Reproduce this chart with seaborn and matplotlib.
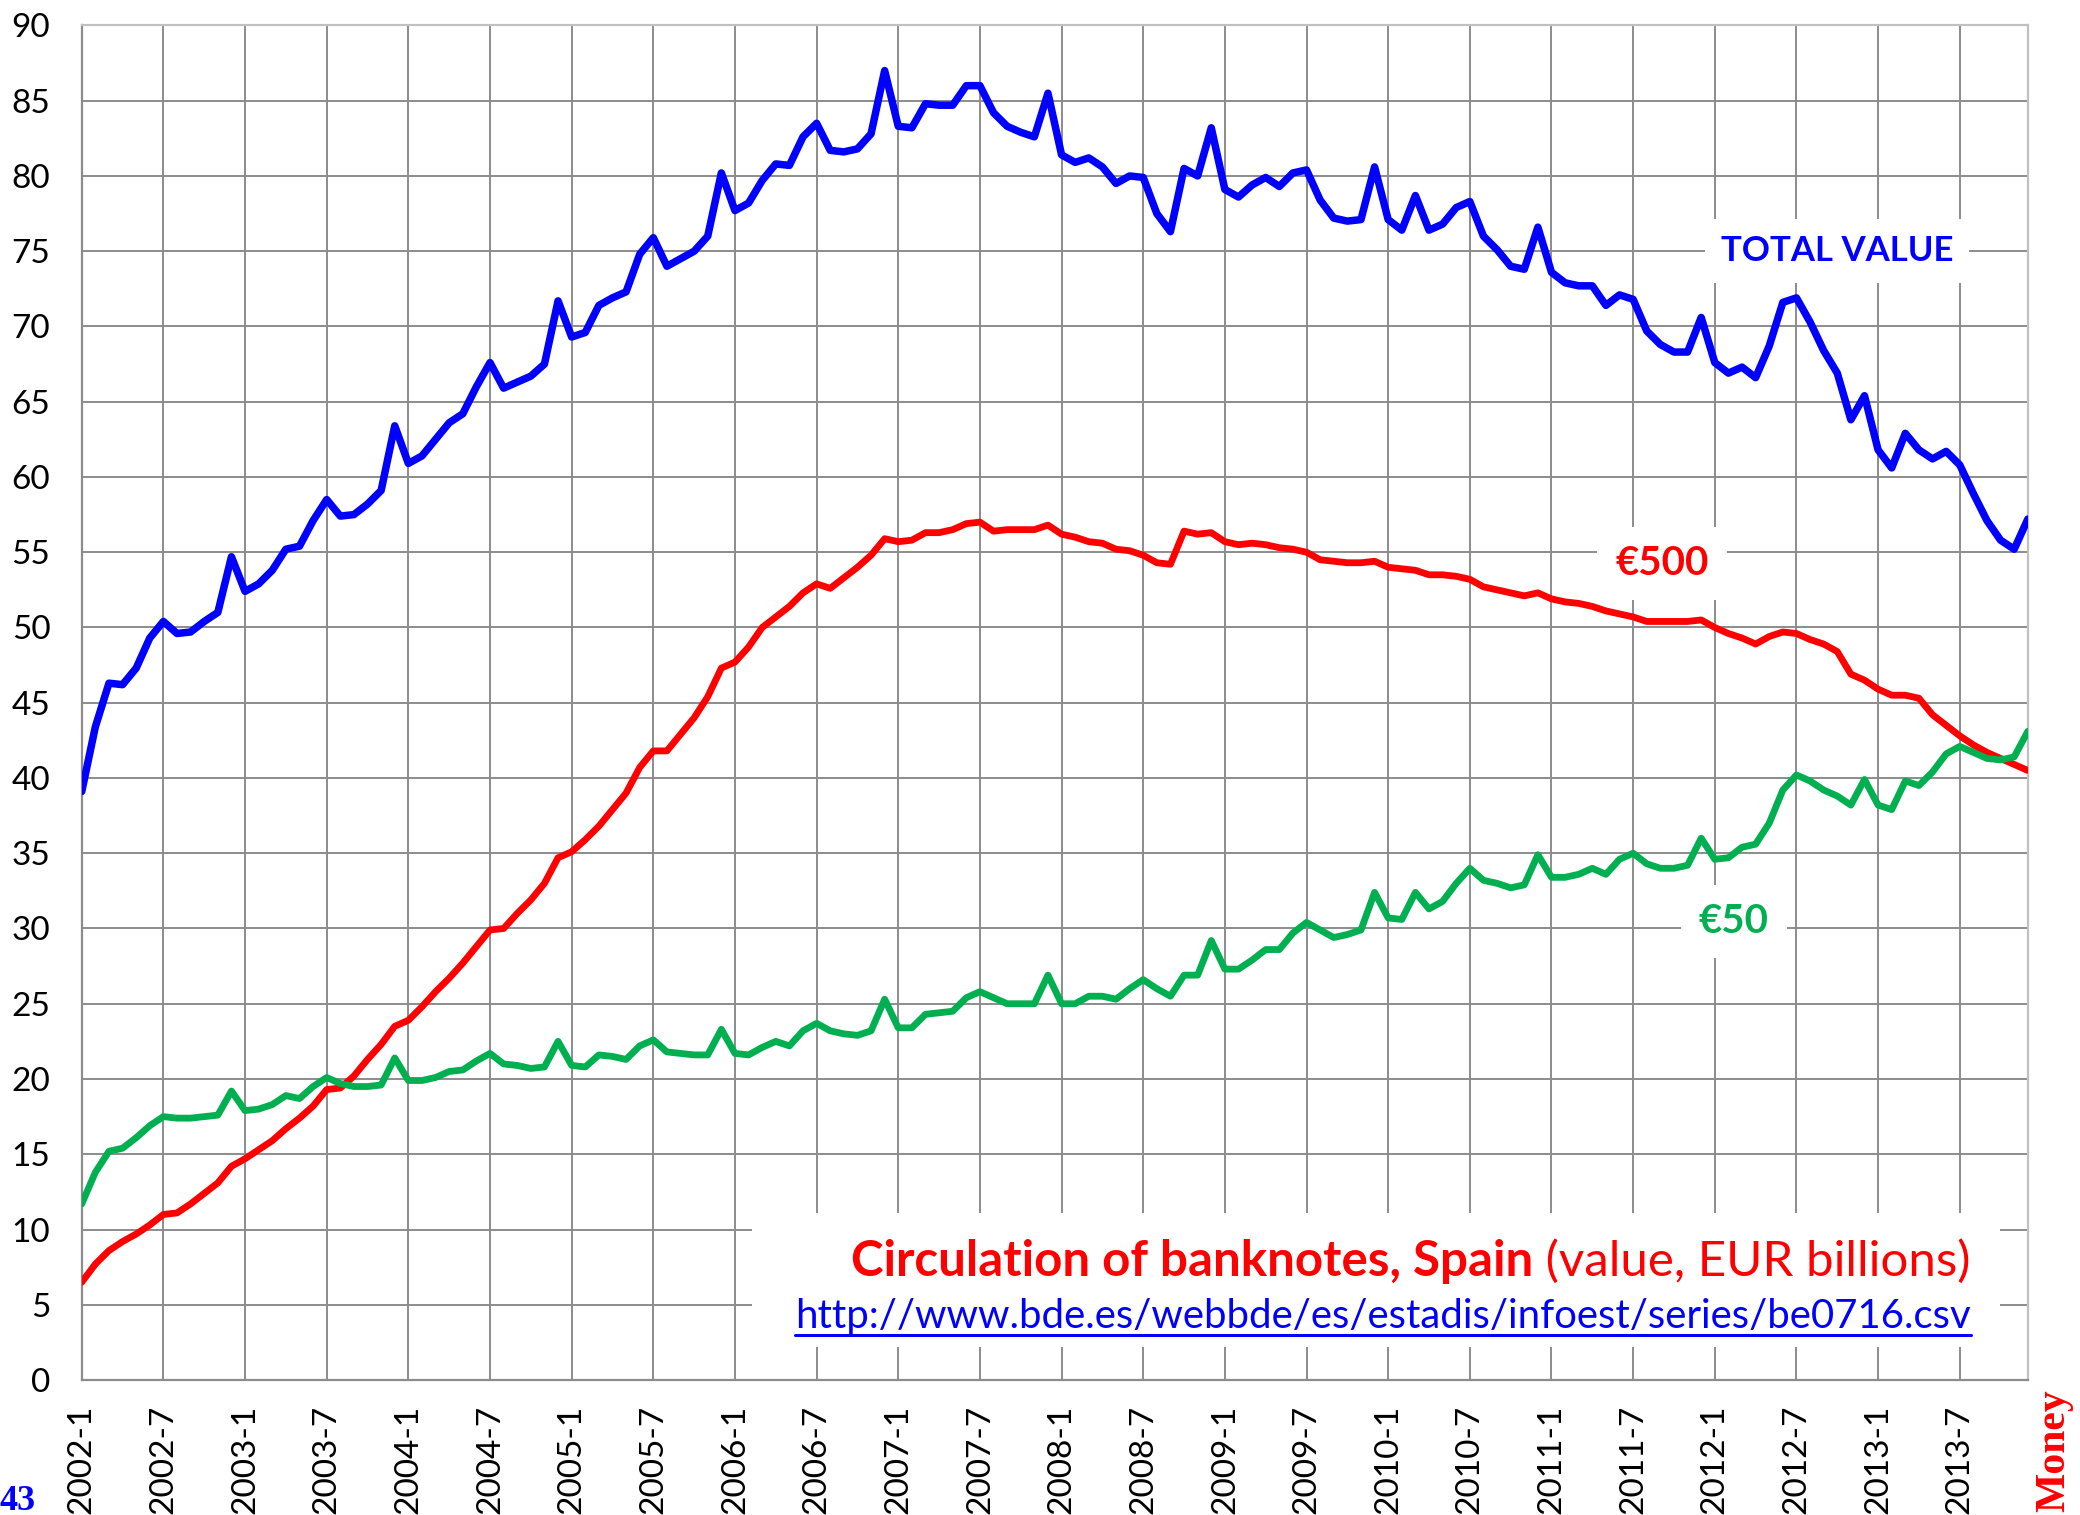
import numpy as np
import pandas as pd
import matplotlib
matplotlib.use("Agg")
import matplotlib.pyplot as plt
import matplotlib.patches as mpatches
from matplotlib.lines import Line2D
import seaborn as sns

# monthly values, EUR billions, 2002-1 .. 2013-12 (one row per year)
total_value = [
    39.1, 43.4, 46.3, 46.2, 47.3, 49.3, 50.4, 49.6, 49.7, 50.4, 51.0, 54.7,
    52.4, 52.9, 53.8, 55.2, 55.4, 57.1, 58.5, 57.4, 57.5, 58.2, 59.1, 63.4,
    60.9, 61.4, 62.5, 63.6, 64.2, 66.0, 67.6, 65.9, 66.3, 66.7, 67.5, 71.7,
    69.3, 69.6, 71.4, 71.9, 72.3, 74.8, 75.9, 74.0, 74.5, 75.0, 76.0, 80.2,
    77.7, 78.2, 79.7, 80.8, 80.7, 82.6, 83.5, 81.7, 81.6, 81.8, 82.8, 87.0,
    83.3, 83.2, 84.8, 84.7, 84.7, 86.0, 86.0, 84.2, 83.3, 82.9, 82.6, 85.5,
    81.4, 80.9, 81.2, 80.6, 79.5, 80.0, 79.9, 77.5, 76.3, 80.5, 80.0, 83.2,
    79.1, 78.6, 79.4, 79.9, 79.3, 80.2, 80.4, 78.4, 77.2, 77.0, 77.1, 80.6,
    77.1, 76.4, 78.7, 76.4, 76.8, 77.9, 78.3, 76.0, 75.1, 74.0, 73.8, 76.6,
    73.6, 72.9, 72.7, 72.7, 71.4, 72.1, 71.8, 69.7, 68.8, 68.3, 68.3, 70.6,
    67.6, 66.9, 67.3, 66.6, 68.7, 71.6, 71.9, 70.3, 68.4, 66.9, 63.8, 65.4,
    61.8, 60.6, 62.9, 61.8, 61.2, 61.7, 60.8, 58.9, 57.1, 55.8, 55.2, 57.2,
]
notes_500 = [
    6.5, 7.7, 8.6, 9.2, 9.7, 10.3, 11.0, 11.1, 11.7, 12.4, 13.1, 14.2,
    14.7, 15.3, 15.9, 16.7, 17.4, 18.2, 19.3, 19.4, 20.2, 21.3, 22.3, 23.5,
    23.9, 24.8, 25.8, 26.7, 27.7, 28.8, 29.9, 30.0, 31.0, 31.9, 33.0, 34.7,
    35.1, 35.9, 36.8, 37.9, 39.0, 40.7, 41.8, 41.8, 42.9, 44.0, 45.4, 47.3,
    47.7, 48.7, 50.0, 50.7, 51.4, 52.3, 52.9, 52.6, 53.3, 54.0, 54.8, 55.9,
    55.7, 55.8, 56.3, 56.3, 56.5, 56.9, 57.0, 56.4, 56.5, 56.5, 56.5, 56.8,
    56.2, 56.0, 55.7, 55.6, 55.2, 55.1, 54.8, 54.3, 54.2, 56.4, 56.2, 56.3,
    55.7, 55.5, 55.6, 55.5, 55.3, 55.2, 55.0, 54.5, 54.4, 54.3, 54.3, 54.4,
    54.0, 53.9, 53.8, 53.5, 53.5, 53.4, 53.2, 52.7, 52.5, 52.3, 52.1, 52.3,
    51.9, 51.7, 51.6, 51.4, 51.1, 50.9, 50.7, 50.4, 50.4, 50.4, 50.4, 50.5,
    50.0, 49.6, 49.3, 48.9, 49.4, 49.7, 49.6, 49.2, 48.9, 48.4, 46.9, 46.5,
    45.9, 45.5, 45.5, 45.3, 44.2, 43.5, 42.8, 42.2, 41.7, 41.3, 40.9, 40.5,
]
notes_50 = [
    11.7, 13.8, 15.2, 15.4, 16.1, 16.9, 17.5, 17.4, 17.4, 17.5, 17.6, 19.2,
    17.9, 18.0, 18.3, 18.9, 18.7, 19.5, 20.1, 19.7, 19.5, 19.5, 19.6, 21.4,
    19.9, 19.9, 20.1, 20.5, 20.6, 21.2, 21.7, 21.0, 20.9, 20.7, 20.8, 22.5,
    20.9, 20.8, 21.6, 21.5, 21.3, 22.2, 22.6, 21.8, 21.7, 21.6, 21.6, 23.3,
    21.7, 21.6, 22.1, 22.5, 22.2, 23.2, 23.7, 23.2, 23.0, 22.9, 23.2, 25.3,
    23.4, 23.4, 24.3, 24.4, 24.5, 25.4, 25.8, 25.4, 25.0, 25.0, 25.0, 26.9,
    25.0, 25.0, 25.5, 25.5, 25.3, 26.0, 26.6, 26.0, 25.5, 26.9, 26.9, 29.2,
    27.3, 27.3, 27.9, 28.6, 28.6, 29.7, 30.4, 29.9, 29.4, 29.6, 29.9, 32.4,
    30.7, 30.6, 32.4, 31.3, 31.8, 33.0, 34.0, 33.2, 33.0, 32.7, 32.9, 34.9,
    33.4, 33.4, 33.6, 34.0, 33.6, 34.6, 35.0, 34.3, 34.0, 34.0, 34.2, 36.0,
    34.6, 34.7, 35.4, 35.6, 37.0, 39.2, 40.2, 39.8, 39.2, 38.8, 38.2, 39.9,
    38.2, 37.9, 39.8, 39.5, 40.4, 41.6, 42.1, 41.7, 41.3, 41.2, 41.4, 43.1,
]
periods = [f"{y}-{m}" for y in range(2002, 2014) for m in range(1, 13)]

df = pd.DataFrame({"period": periods, "total": total_value,
                   "e500": notes_500, "e50": notes_50})
df["t"] = np.arange(len(df))

sns.set_style("white")
plt.rcParams["font.family"] = ["Lato", "DejaVu Sans"]

fig = plt.figure(figsize=(20.8, 15.15), dpi=100)
ax = fig.add_axes([0.0393, 0.0891, 0.9356, 0.8941])

grid_col = "#8c8c8c"
sns.lineplot(data=df, x="t", y="total", ax=ax, color="#0000ff", linewidth=5.4,
             solid_joinstyle="round", solid_capstyle="round", zorder=3)
sns.lineplot(data=df, x="t", y="e500", ax=ax, color="#ff0000", linewidth=4.9,
             solid_joinstyle="round", solid_capstyle="round", zorder=3)
sns.lineplot(data=df, x="t", y="e50", ax=ax, color="#00b050", linewidth=4.9,
             solid_joinstyle="round", solid_capstyle="round", zorder=3)

ax.set_xlim(0, len(df) - 1)
ax.set_ylim(0, 90)
ax.set_yticks(range(0, 91, 5))
ax.set_xticks(df["t"][::6])
ax.set_xticklabels(df["period"][::6], rotation=90)
ax.set_xlabel("")
ax.set_ylabel("")
ax.grid(True, color=grid_col, linewidth=1.4)
ax.set_axisbelow(True)
ax.tick_params(axis="both", direction="out", length=8.6, width=1.4,
               color=grid_col, labelsize=24, labelcolor="black")
ax.tick_params(axis="x", pad=9)
ax.tick_params(axis="y", pad=14)
for side in ["left", "bottom"]:
    ax.spines[side].set_color(grid_col)
    ax.spines[side].set_linewidth(1.6)
for side in ["top", "right"]:
    ax.spines[side].set_color("#c0c0c0")
    ax.spines[side].set_linewidth(1.6)

# series labels
box = dict(boxstyle="square,pad=0.45", fc="white", ec="none")
ax.text(129, 74.35, "TOTAL VALUE", color="#0000ff", fontsize=25, fontweight="bold",
        ha="center", va="baseline", bbox=box, zorder=2)
ax.text(116.1, 53.5, "€500", color="#ff0000", fontsize=29, fontweight="bold",
        ha="center", va="baseline", bbox=box, zorder=2)
ax.text(121.4, 29.7, "€50", color="#00b050", fontsize=29, fontweight="bold",
        ha="center", va="baseline", bbox=box, zorder=2)

# title block
ax.add_patch(mpatches.Rectangle((0.3444, 0.0244), 0.6413, 0.0989, transform=ax.transAxes,
                                fc="white", ec="none", zorder=1))
reg = ax.text(0.9708, 0.0768, " (value, EUR billions)", transform=ax.transAxes,
              ha="right", va="baseline", color="#ff0000", fontsize=35.5, zorder=4)
ax.annotate("Circulation of banknotes, Spain", xy=(0, 0), xycoords=reg,
            ha="right", va="bottom", color="#ff0000", fontsize=35.5,
            fontweight="bold", zorder=4)
url = ax.text(0.9708, 0.0384, "http://www.bde.es/webbde/es/estadis/infoest/series/be0716.csv",
              transform=ax.transAxes, ha="right", va="baseline", color="#0000ff",
              fontsize=28.9, zorder=4)

fig.text(0.0, 0.0198, "43", color="#0000ff", fontsize=26, fontweight="bold",
         family="Liberation Serif", ha="left", va="top")
fig.text(0.9925, 0.002, "Money", color="#ff0000", fontsize=30, fontweight="bold",
         family="Liberation Serif", rotation=90, rotation_mode="anchor",
         ha="left", va="baseline")

fig.canvas.draw()
bb = url.get_window_extent().transformed(ax.transAxes.inverted())
ax.add_line(Line2D([bb.x0, bb.x1], [0.0332, 0.0332], transform=ax.transAxes,
                   color="#0000ff", linewidth=2.2, zorder=4))

fig.savefig("out.png", dpi=100)
